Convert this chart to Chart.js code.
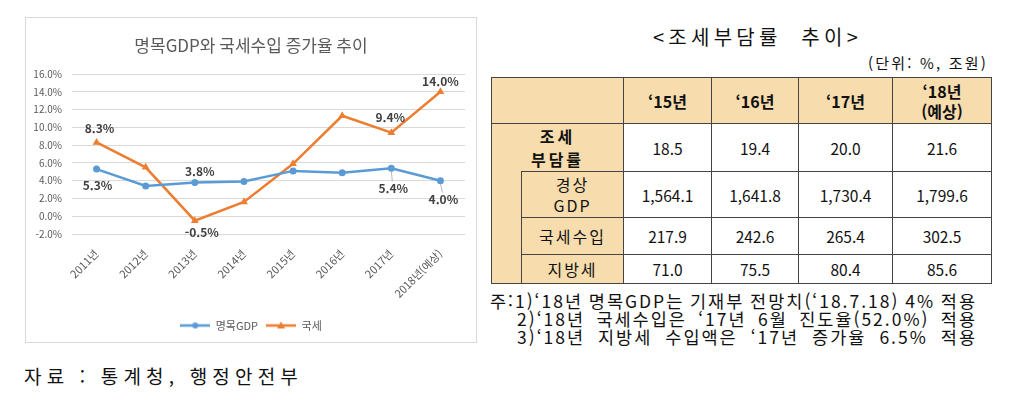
<!DOCTYPE html>
<html lang="ko">
<head>
<meta charset="utf-8">
<script src="https://cdn.jsdelivr.net/npm/chart.js@4.4.0/dist/chart.umd.min.js"></script>
<style>
  html, body { margin: 0; padding: 0; background: #fff; width: 1024px; height: 399px; overflow: hidden;
    font-family: "Noto Sans CJK KR", "Noto Sans", sans-serif; color: #111; }
  #chartBox { position: absolute; left: 25px; top: 17px; width: 450px; height: 324px; border: 1px solid #d9d9d9; }
  .txt { position: absolute; white-space: pre; }
  .fit { display: inline-block; white-space: pre; }
  #tblTitle { left: 653px; top: 23px; font-size: 20px; line-height: 28px; }
  #unit { left: 868px; top: 53px; font-size: 15px; line-height: 20px; }
  #tbl { position: absolute; left: 491px; top: 77px; border-collapse: collapse; table-layout: fixed; width: 501px; }
  #tbl td { border: 1px solid #444; text-align: center; vertical-align: middle; padding: 0; font-size: 15.5px; }
  #tbl .hd { background: #f7dcae; }
  #tbl .yr { font-weight: bold; font-size: 16px; line-height: 20px; }
  #tbl .lb { font-size: 16px; letter-spacing: 2px; line-height: 21px; }
  #notes { left: 490px; top: 292px; font-size: 17.5px; line-height: 18px; }
  #notes .fit { letter-spacing: 2px; }
  #src { left: 24px; top: 363px; font-size: 19px; line-height: 26px; }
</style>
</head>
<body>
<div id="chartBox"><canvas id="myChart" width="450" height="324"></canvas></div>

<div class="txt" id="tblTitle"><span class="fit" data-w="209">&lt;조세부담률  추이&gt;</span></div>
<div class="txt" id="unit"><span class="fit" data-w="120">(단위: %, 조원)</span></div>
<table id="tbl"></table>
<div class="txt" id="notes"></div>
<div class="txt" id="src"><span class="fit" data-w="279">자료 : 통계청, 행정안전부</span></div>

<script>
// 그래프 데이터
var years = ['2011년', '2012년', '2013년', '2014년', '2015년', '2016년', '2017년', '2018년(예상)'];
var gdpRate = [5.3, 3.4, 3.8, 3.9, 5.1, 4.9, 5.4, 4.0];   // 명목GDP 증가율
var taxRate = [8.3, 5.5, -0.5, 1.6, 5.9, 11.3, 9.4, 14.0]; // 국세 증가율
var yTicks = [-2, 0, 2, 4, 6, 8, 10, 12, 14, 16];

// 표 데이터
var tableYears = ['‘15년', '‘16년', '‘17년', '‘18년<br>(예상)'];
var burdenRate = ['18.5', '19.4', '20.0', '21.6'];
var nominalGdp = ['1,564.1', '1,641.8', '1,730.4', '1,799.6'];
var nationalTax = ['217.9', '242.6', '265.4', '302.5'];
var localTax = ['71.0', '75.5', '80.4', '85.6'];
var notes = [
    '주:1)‘18년 명목GDP는 기재부 전망치(‘18.7.18) 4% 적용',
    '2)‘18년 국세수입은 ‘17년 6월 진도율(52.0%) 적용',
    '3)‘18년 지방세 수입액은 ‘17년 증가율 6.5% 적용'
];

// 라벨 위치 (점 기준 이동량)
var gdpLabelPos = {0: [1, 16], 2: [5, -11], 6: [2, 20, true], 7: [3, 19, true]};
var taxLabelPos = {0: [3, -14], 2: [7, 12], 6: [-1, -15], 7: [0, -10]};

var BLUE = '#5b9bd5', ORANGE = '#ed7d31';

// 범례용 선+마커 그림
function legendIcon(color, marker) {
    var c = document.createElement('canvas');
    c.width = 30; c.height = 10;
    var g = c.getContext('2d');
    g.strokeStyle = color; g.lineWidth = 2.5;
    g.beginPath(); g.moveTo(0, 5); g.lineTo(30, 5); g.stroke();
    g.fillStyle = color;
    g.beginPath();
    if (marker === 'circle') g.arc(15, 5, 3, 0, Math.PI * 2);
    else { g.moveTo(15, 1); g.lineTo(19, 8); g.lineTo(11, 8); g.closePath(); }
    g.fill();
    return c;
}
var icons = [legendIcon(BLUE, 'circle'), legendIcon(ORANGE, 'triangle')];

var pointLabels = {
    id: 'pointLabels',
    afterDatasetsDraw(chart) {
        var ctx = chart.ctx;
        var posList = [gdpLabelPos, taxLabelPos];
        ctx.save();
        chart.data.datasets.forEach(function (ds, di) {
            var meta = chart.getDatasetMeta(di);
            Object.keys(posList[di]).forEach(function (k) {
                var p = posList[di][k], pt = meta.data[k];
                var lx = pt.x + p[0], ly = pt.y + p[1];
                if (p[2]) {
                    ctx.strokeStyle = '#a6a6a6'; ctx.lineWidth = 0.8;
                    ctx.beginPath(); ctx.moveTo(pt.x, pt.y + 3); ctx.lineTo(lx - 1, ly - 7); ctx.stroke();
                }
                ctx.font = 'bold 12px "Noto Sans CJK KR", sans-serif';
                ctx.fillStyle = '#404040';
                ctx.textAlign = 'center'; ctx.textBaseline = 'middle';
                ctx.fillText(ds.data[k].toFixed(1) + '%', lx, ly);
            });
        });
        ctx.restore();
    }
};

var ctx = document.getElementById('myChart').getContext('2d');
new Chart(ctx, {
    type: 'line',
    data: {
        labels: years,
        datasets: [{
            label: '명목GDP',
            data: gdpRate,
            borderColor: BLUE,
            backgroundColor: BLUE,
            borderWidth: 2.5,
            pointStyle: 'circle',
            pointRadius: 3.5,
            pointBorderWidth: 0
        }, {
            label: '국세',
            data: taxRate,
            borderColor: ORANGE,
            backgroundColor: ORANGE,
            borderWidth: 2.5,
            pointStyle: 'triangle',
            pointRadius: 4.5,
            pointBorderWidth: 0
        }]
    },
    options: {
        responsive: false,
        animation: false,
        layout: { padding: { left: 0, right: 0, top: 0, bottom: 1 } },
        scales: {
            x: {
                offset: true,
                grid: { display: false },
                border: { display: false },
                ticks: { color: '#595959', font: { size: 11, family: '"Noto Sans CJK KR", sans-serif' },
                         maxRotation: 45, minRotation: 45, padding: 5 },
                afterFit: function (s) { s.height = 78; }
            },
            y: {
                min: -2, max: 16,
                afterBuildTicks: function (s) { s.ticks = yTicks.map(function (v) { return { value: v }; }); },
                grid: { color: '#d9d9d9', drawTicks: false },
                border: { display: false },
                ticks: { color: '#595959', padding: 10, font: { size: 10, family: '"Noto Sans CJK KR", sans-serif' },
                         callback: function (v) { return v.toFixed(1) + '%'; } },
                afterFit: function (s) { s.width = 46; }
            },
            y2: {
                position: 'right',
                grid: { display: false },
                border: { display: false },
                ticks: { display: false },
                afterFit: function (s) { s.width = 11; }
            }
        },
        plugins: {
            title: {
                display: true,
                text: '명목GDP와 국세수입 증가율 추이',
                color: '#595959',
                font: { size: 17, weight: 'normal', family: '"Noto Sans CJK KR", sans-serif' },
                padding: { top: 17, bottom: 18.6 }
            },
            legend: {
                position: 'bottom',
                labels: {
                    usePointStyle: true,
                    pointStyleWidth: 30,
                    padding: 8,
                    color: '#595959',
                    font: { size: 11, family: '"Noto Sans CJK KR", sans-serif' },
                    generateLabels: function (chart) {
                        return Chart.defaults.plugins.legend.labels.generateLabels(chart).map(function (it, i) {
                            it.pointStyle = icons[i];
                            return it;
                        });
                    }
                }
            },
            tooltip: { enabled: false }
        }
    },
    plugins: [pointLabels]
});

// 조세부담률 표
function row(cells) { return '<tr>' + cells.join('') + '</tr>'; }
function vals(arr) { return arr.map(function (v) { return '<td>' + v + '</td>'; }); }
var html = '<colgroup><col style="width:30px"><col style="width:102px"><col style="width:88px">' +
    '<col style="width:87px"><col style="width:94px"><col style="width:99px"></colgroup>';
html += row(['<td class="hd" colspan="2" style="height:45px"></td>'].concat(
    tableYears.map(function (y) { return '<td class="hd yr">' + y + '</td>'; })));
html += row(['<td class="hd yr" colspan="2" style="height:47px;line-height:23px;letter-spacing:3px;border-bottom:none">조세<br>부담률</td>']
    .concat(vals(burdenRate)));
html += row(['<td class="hd" rowspan="3" style="border-top:none"></td>',
    '<td class="hd lb" style="height:45px">경상<br>GDP</td>'].concat(vals(nominalGdp)));
html += row(['<td class="hd lb" style="height:36px">국세수입</td>'].concat(vals(nationalTax)));
html += row(['<td class="hd lb" style="height:28px">지방세</td>'].concat(vals(localTax)));
document.getElementById('tbl').innerHTML = html;

document.getElementById('notes').innerHTML = notes.map(function (n, i) {
    return '<div style="padding-left:' + (i ? 27 : 0) + 'px"><span class="fit words" data-w="' + (i ? 460 : 487) + '">' + n + '</span></div>';
}).join('');

// 폭 맞추기: 주석은 띄어쓰기 간격, 나머지는 글자 간격
document.querySelectorAll('.fit').forEach(function (el) {
    var w = el.getBoundingClientRect().width;
    var extra = +el.dataset.w - w;
    if (el.classList.contains('words')) {
        var gaps = el.textContent.split(' ').length - 1;
        el.style.wordSpacing = (extra / gaps) + 'px';
    } else {
        el.style.letterSpacing = (extra / el.textContent.length) + 'px';
    }
});
</script>
</body>
</html>
